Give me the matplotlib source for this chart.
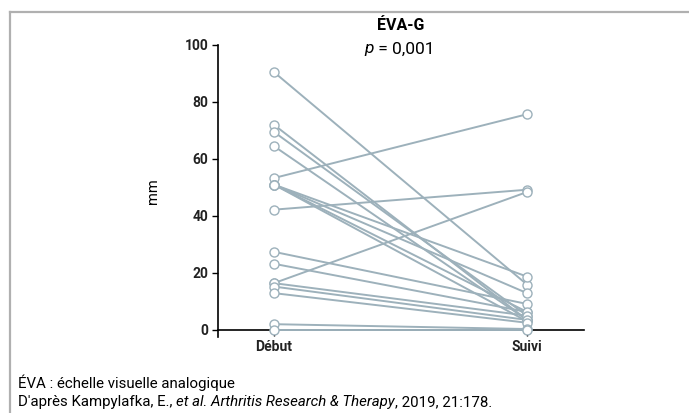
import matplotlib.pyplot as plt

# values (mm)
debut = [90.5, 72, 69.5, 64.5, 53.3, 51, 51, 51, 51, 42.2, 27.4, 23.2, 16.4, 16.4, 15.2, 12.9, 2, 0]
suivi = [15.9, 3.5, 5, 3.5, 75.7, 18.7, 12.9, 6.3, 3, 49.2, 9.1, 6.3, 48.4, 5, 3.5, 2.5, 0.3, 0]
x_labels = ["Début", "Suivi"]
y_ticks = [0, 20, 40, 60, 80, 100]

plt.rcParams['font.family'] = ['Roboto', 'DejaVu Sans']
line_col = '#9db1bb'

fig = plt.figure(figsize=(6.89, 4.13), dpi=100)
ax = fig.add_axes([218/689, 1-337/413, (584-218)/689, (337-45)/413])

for a, b in zip(debut, suivi):
    ax.plot([0, 1], [a, b], color=line_col, lw=1.4, marker='o', ms=6.5,
            mfc='white', mec=line_col, mew=1.0, zorder=3, clip_on=False)

ax.set_xlim(-0.221, 1.225)
ax.set_ylim(-2.5, 100)
ax.spines['top'].set_visible(False)
ax.spines['right'].set_visible(False)
ax.spines['bottom'].set_position(('data', 0))
ax.spines['left'].set_bounds(-2.5, 100)
for s in ['left', 'bottom']:
    ax.spines[s].set_linewidth(1.2)
    ax.spines[s].set_color('black')

ax.set_xticks([0, 1])
ax.set_xticklabels(x_labels, fontsize=10, fontweight='bold', color='#222222')
ax.set_yticks(y_ticks)
ax.set_yticklabels([str(t) for t in y_ticks], fontsize=10, fontweight='bold', color='#222222')
ax.tick_params(axis='both', length=4, width=1.0, pad=3)
ax.set_ylabel("mm", fontsize=10.5, labelpad=18)

# title
fig.text(401/689, 1-26/413, "ÉVA-G", ha='center', va='center', fontsize=11.5, fontweight='bold')
tp = fig.text(374/689, 1-49/413, "p", ha='right', va='center', fontsize=12.5, style='italic')
ax.annotate(" = 0,001", xy=(1, 0), xycoords=tp, va='bottom', ha='left', fontsize=12.5,
            annotation_clip=False)

# footnotes
fig.text(18/689, 1-383/413, "ÉVA : échelle visuelle analogique", ha='left', va='center', fontsize=10.8)
t1 = fig.text(18/689, 1-402/413, "D'après Kampylafka, E., ", ha='left', va='center', fontsize=10.8)
t2 = ax.annotate("et al. Arthritis Research & Therapy", xy=(1, 0), xycoords=t1,
                 va='bottom', ha='left', fontsize=10.8, style='italic', annotation_clip=False)
ax.annotate(", 2019, 21:178.", xy=(1, 0), xycoords=t2,
            va='bottom', ha='left', fontsize=10.8, annotation_clip=False)

# frame top and left
fig.add_artist(plt.Line2D([10/689, 1], [1-12/413, 1-12/413], color='#b0b0b0', lw=1.6, transform=fig.transFigure))
fig.add_artist(plt.Line2D([10/689, 10/689], [0, 1-12/413], color='#b0b0b0', lw=1.6, transform=fig.transFigure))

fig.savefig("out.png", dpi=100)
